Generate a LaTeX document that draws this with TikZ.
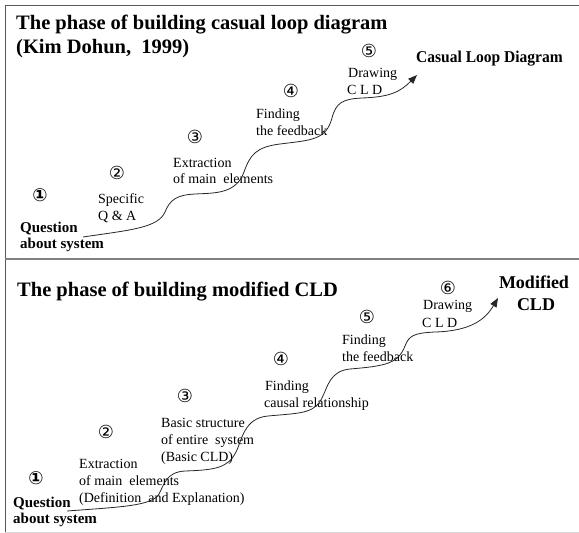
\documentclass[tikz,border=0pt]{standalone}
\usepackage{fontspec}
\usepackage{graphicx}
\setmainfont{Liberation Serif}
\newfontfamily\circfont{DejaVu Sans}
\usetikzlibrary{arrows.meta}
\begin{document}
\begin{tikzpicture}[x=1pt,y=-1pt,
  lbl/.style={anchor=base west,inner sep=0pt,font=\fontsize{14}{17}\selectfont},
  bld/.style={anchor=base west,inner sep=0pt,font=\fontsize{15}{18}\selectfont\bfseries},
  ttl/.style={anchor=base west,inner sep=0pt,font=\fontsize{20.5}{24}\selectfont\bfseries},
  num/.style={inner sep=0pt,font=\circfont\fontsize{18}{20}\selectfont},
  numb/.style={num,font=\circfont\fontsize{18}{20}\selectfont\bfseries},
  stair/.style={line width=0.8pt,draw=black!85,-{Triangle[length=9pt,width=7pt]}}]
\useasboundingbox (0,0) rectangle (579,533);
% frame
\draw[black!65,line width=1pt] (579,5) -- (5,5) -- (5,533);
\draw[black!50,line width=1.6pt] (5,259) -- (579,259);
\draw[black!15,line width=1pt] (5,532) -- (579,532);

% ---------- top panel ----------
\node[ttl] (t1) at (16,29) {The phase of building casual loop diagram};
\node[ttl] (t2) at (16,53) {(Kim Dohun,\ \ 1999)};
\node[anchor=base west,inner sep=0pt,font=\fontsize{16.5}{20}\selectfont\bfseries] (cld) at (416,62) {\scalebox{0.94}[1]{Casual Loop Diagram}};

\node[numb] (a1) at (40,195) {①};
\node[num] (a2) at (117,173) {②};
\node[num] (a3) at (195,137) {③};
\node[num] (a4) at (291,91) {④};
\node[num] (a5) at (369,51) {⑤};

\node[bld] (aq1) at (20,232) {Question};
\node[bld] (aq2) at (20,248) {about system};
\node[lbl] (ab1) at (98,203) {Specific};
\node[lbl] (ab2) at (98,220) {Q \& A};
\node[lbl] (ac1) at (173,167) {Extraction};
\node[lbl] (ac2) at (173,183) {of main\ \ elements};
\node[lbl] (ad1) at (256,118) {Finding};
\node[lbl] (ad2) at (256,135) {the feedback};
\node[lbl] (ae1) at (348,77) {Drawing};
\node[lbl] (ae2) at (347,94) {C L D};

\coordinate (s1) at (83,237);
\coordinate (e1) at (417,75);
\draw[stair] (s1) .. controls (130,230) and (158,228) .. (165,212)
  .. controls (170,200) and (176,195) .. (195,194)
  .. controls (215,193) and (236,194) .. (244,172)
  .. controls (250,155) and (256,147) .. (280,144)
  .. controls (312,140) and (326,140) .. (332,118)
  .. controls (336,103) and (342,99) .. (362,98)
  .. controls (390,97) and (400,92) .. (e1);

% ---------- bottom panel ----------
\node[ttl] (t3) at (17,296) {The phase of building modified CLD};
\node[inner sep=0pt,font=\fontsize{18}{22}\selectfont\bfseries,anchor=base] (m1) at (534,288) {Modified};
\node[inner sep=0pt,font=\fontsize{18}{22}\selectfont\bfseries,anchor=base] (m2) at (536,310) {CLD};

\node[numb] (b1) at (36,478) {①};
\node[num] (b2) at (106,432) {②};
\node[num] (b3) at (185,396) {③};
\node[num] (b4) at (281,359) {④};
\node[num] (b5) at (367,317) {⑤};
\node[num] (b6) at (448,288) {⑥};

\node[bld] (bq1) at (13,507) {Question};
\node[bld] (bq2) at (13,523) {about system};
\node[lbl] (bb1) at (79,468) {Extraction};
\node[lbl] (bb2) at (79,485) {of main\ \ elements};
\node[lbl] (bb3) at (79,502) {(Definition\ \ and Explanation)};
\node[lbl] (bc1) at (161,427) {Basic structure};
\node[lbl] (bc2) at (161,444) {of entire\ \ system};
\node[lbl] (bc3) at (161,461) {(Basic CLD)};
\node[lbl] (bd1) at (265,390) {Finding};
\node[lbl] (bd2) at (264,407) {causal relationship};
\node[lbl] (be1) at (342,344) {Finding};
\node[lbl] (be2) at (342,361) {the feedback};
\node[lbl] (bf1) at (423,309) {Drawing};
\node[lbl] (bf2) at (422,327) {C L D};

\coordinate (s2) at (67,511);
\coordinate (e2) at (498,298);
\draw[stair] (s2) .. controls (120,507) and (152,506) .. (159,494)
  .. controls (164,485) and (166,472) .. (185,471)
  .. controls (215,470) and (228,468) .. (236,452)
  .. controls (242,440) and (244,418) .. (268,416)
  .. controls (300,413) and (314,414) .. (322,398)
  .. controls (328,386) and (330,371) .. (350,369)
  .. controls (385,366) and (398,364) .. (405,346)
  .. controls (409,336) and (413,333) .. (435,332)
  .. controls (470,331) and (485,320) .. (e2);
\end{tikzpicture}
\end{document}
